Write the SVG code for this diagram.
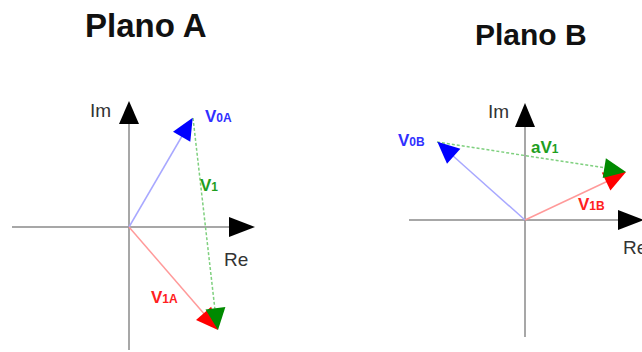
<svg xmlns="http://www.w3.org/2000/svg" width="642" height="352" viewBox="0 0 642 352">
<style>
.title{font-family:"Liberation Sans",Arial,sans-serif;font-weight:bold;fill:#111}
.ax{stroke:#8a8a8a;stroke-width:1.5;fill:none}
.axlbl{font-family:"Liberation Sans",Arial,sans-serif;font-size:19px;fill:#333}
.lbl{font-family:"Liberation Sans",Arial,sans-serif;font-weight:bold;font-size:17px}
.sub{font-size:12px}
.blue{fill:#3030ff}.green{fill:#1e9e1e}.red{fill:#ff2020}
</style>
<rect width="642" height="352" fill="#fff"/>
<text class="title" x="85" y="37" font-size="33">Plano A</text>
<text class="title" x="475" y="45" font-size="30">Plano B</text>

<g id="axesA">
<line class="ax" x1="12" y1="227" x2="232" y2="227"/>
<line class="ax" x1="129" y1="350" x2="129" y2="120"/>
<polygon points="255,227 229,217 229,237" fill="#000"/>
<polygon points="129,101 119,124 139,124" fill="#000"/>
<text class="axlbl" x="90" y="117">Im</text>
<text class="axlbl" x="224" y="266">Re</text>
</g>
<g id="connectorsA">
<line x1="129" y1="227" x2="185" y2="131" stroke="#a8a8ff" stroke-width="1.5"/>
<line x1="129" y1="227" x2="206" y2="316" stroke="#ff9a9a" stroke-width="1.5"/>
<line x1="193" y1="118" x2="215" y2="310" stroke="#7fd07f" stroke-width="1.5" stroke-dasharray="3,2"/>
<polygon points="192.7,117.7 190.3,141.7 173,131.7" fill="#0000ff"/>
<polygon points="218,330 196,320 211.2,306.8" fill="#ff0000"/>
<polygon points="218,330 205.5,309.4 225.4,307" fill="#008a00"/>
</g>
<g id="labelsA">
<text class="lbl blue" x="205" y="122">V<tspan class="sub">0A</tspan></text>
<text class="lbl green" x="200" y="191">V<tspan class="sub">1</tspan></text>
<text class="lbl red" x="151" y="303">V<tspan class="sub">1A</tspan></text>
</g>

<g id="axesB">
<line class="ax" x1="409" y1="220" x2="622" y2="220"/>
<line class="ax" x1="525" y1="337" x2="525" y2="124"/>
<polygon points="644,220 618,210 618,230" fill="#000"/>
<polygon points="525,103 515,127 535,127" fill="#000"/>
<text class="axlbl" x="488" y="118">Im</text>
<text class="axlbl" x="623" y="254">Re</text>
</g>
<g id="connectorsB">
<line x1="525" y1="220" x2="452" y2="155" stroke="#a8a8ff" stroke-width="1.5"/>
<line x1="525" y1="220" x2="608" y2="181" stroke="#ff9a9a" stroke-width="1.5"/>
<line x1="437" y1="142" x2="606" y2="168" stroke="#7fd07f" stroke-width="1.5" stroke-dasharray="3,2"/>
<polygon points="437.3,141.7 460.4,148.8 447,163.8" fill="#0000ff"/>
<polygon points="626,172 610.4,190.4 601.8,172.4" fill="#ff0000"/>
<polygon points="626,172 602.7,178.1 605.9,158.3" fill="#008a00"/>
</g>
<g id="labelsB">
<text class="lbl blue" x="398" y="146">V<tspan class="sub">0B</tspan></text>
<text class="lbl green" x="531" y="153">aV<tspan class="sub">1</tspan></text>
<text class="lbl red" x="578" y="210">V<tspan class="sub">1B</tspan></text>
</g>
</svg>
